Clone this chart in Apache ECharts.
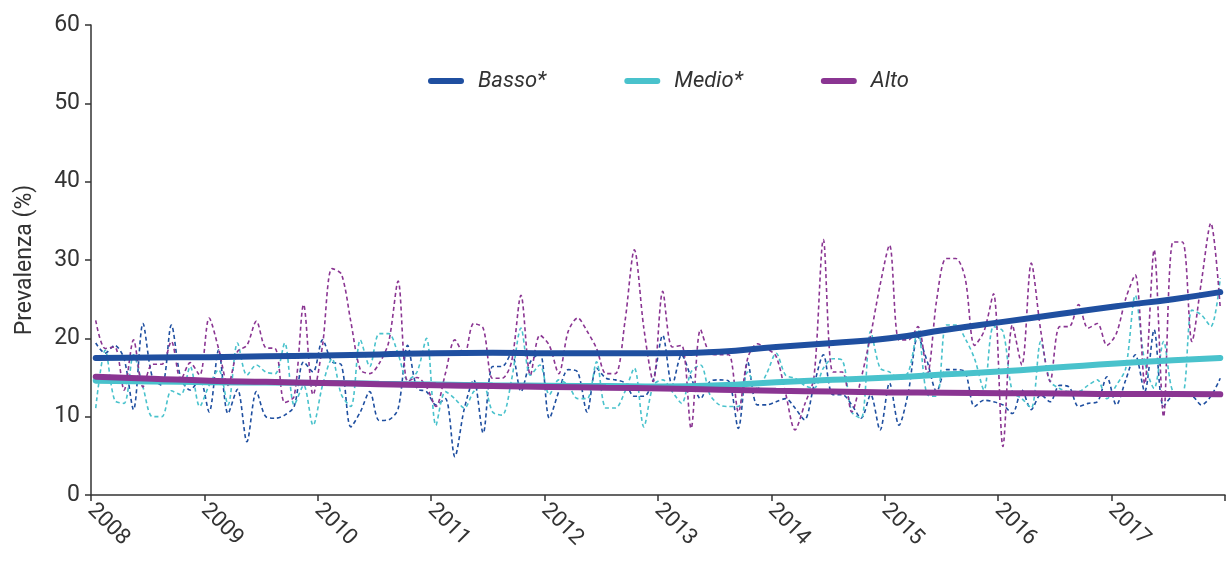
<!DOCTYPE html>
<html>
<head>
<meta charset="utf-8">
<script src="https://cdn.jsdelivr.net/npm/echarts@6/dist/echarts.min.js"></script>
<style>
    html,body{margin:0;padding:0;background:#fff;}
    #chart{width:1232px;height:563px;}
</style>
</head>
<body>
<div id="chart"></div>
<script>
    // anni sull'asse x (12 mesi ciascuno)
    var years=['2008','2009','2010','2011','2012','2013','2014','2015','2016','2017'];

    // prevalenza mensile (%) per livello
    var basso=[19.4,18.1,19.1,17.4,10.9,21.9,15.0,14.0,21.7,14.9,13.4,14.8,
        10.6,18.5,10.4,13.5,6.8,13.2,10.0,9.8,10.2,11.3,17.0,15.7,
        19.8,17.0,16.6,8.7,10.6,13.2,9.5,9.6,11.0,19.1,13.6,13.2,
        11.5,12.3,4.9,11.0,14.7,7.9,16.4,16.4,18.1,13.2,17.0,18.1,
        9.8,13.2,16.0,15.7,10.6,16.2,14.9,14.7,14.3,12.6,12.6,14.7,
        20.4,14.0,17.9,15.0,12.3,14.5,14.7,14.5,8.5,17.0,11.5,11.5,
        11.9,12.3,11.1,9.6,14.0,17.9,12.8,12.8,11.5,9.8,12.8,8.3,
        14.3,8.9,13.2,20.2,17.0,13.2,16.0,16.0,15.7,11.3,12.1,11.9,
        11.5,10.4,13.4,10.9,12.8,11.9,14.0,13.8,11.3,11.7,11.9,15.1,
        11.5,14.7,17.9,13.2,21.1,11.3,12.6,12.6,12.6,11.5,12.6,14.9];
    var medio=[11.1,18.5,12.1,11.7,17.9,13.8,10.0,10.0,13.3,12.8,16.4,11.3,
        14.0,16.0,11.5,19.4,15.3,16.6,15.7,15.5,19.4,11.5,14.0,8.9,
        14.0,17.4,12.8,11.3,19.8,16.4,20.6,20.6,18.0,14.7,15.7,20.0,
        8.9,13.2,12.3,11.1,13.2,14.0,10.6,10.2,14.7,21.3,15.3,16.6,
        12.8,14.7,14.0,12.3,12.3,17.0,11.1,11.1,13.2,16.2,8.7,14.0,
        14.7,13.2,11.7,15.7,16.6,12.8,11.5,11.3,11.3,15.7,13.6,15.5,
        18.1,15.3,14.9,14.0,13.6,16.2,17.4,17.2,10.6,9.8,20.9,16.2,
        15.7,14.9,15.7,21.1,12.8,12.6,21.7,21.7,20.0,17.4,13.4,21.5,
        20.9,13.2,12.3,11.1,19.6,14.5,13.6,13.2,13.2,14.0,14.7,12.3,
        14.0,16.2,25.5,17.0,13.6,19.6,13.2,13.0,23.6,23.0,21.5,27.7];
    var alto=[22.3,18.7,18.9,13.4,19.8,13.8,16.7,16.7,19.6,14.7,16.9,15.3,
        22.6,18.7,14.0,18.3,19.1,22.2,18.8,18.7,11.8,12.6,24.3,12.8,
        19.1,28.9,28.2,22.1,16.0,15.5,16.8,19.5,27.3,14.5,15.0,13.8,
        11.3,15.5,19.8,17.9,21.9,21.3,14.9,14.9,17.0,25.5,15.3,20.4,
        19.1,15.5,20.9,22.6,20.9,18.7,15.5,15.5,22.1,31.3,21.3,14.5,
        26.0,18.9,19.1,8.5,21.1,18.1,17.9,17.9,10.6,17.5,19.3,18.7,
        17.7,13.0,8.3,11.5,15.0,32.6,15.7,15.7,10.6,14.9,20.4,26.8,
        31.9,19.8,19.8,21.5,15.5,25.0,30.2,30.2,27.7,19.1,20.9,25.7,
        6.2,21.7,16.6,29.6,21.0,14.5,21.5,21.5,24.3,21.3,21.9,19.1,
        20.6,25.1,28.1,14.2,31.3,10.0,32.3,32.3,19.6,27.2,34.7,23.8];

    // andamento (trend) letto ogni sei mesi
    var trendMonths=[0,6,12,18,24,30,36,42,48,54,60,66,72,78,84,90,96,102,108,114,119];
    var bassoTrend=[17.5,17.55,17.6,17.7,17.8,17.95,18.1,18.15,18.1,18.1,18.1,18.3,18.9,19.4,20.0,21.1,22.1,23.1,24.1,25.0,25.9];
    var medioTrend=[14.6,14.5,14.4,14.35,14.3,14.2,14.1,14.0,13.95,13.9,13.85,14.0,14.4,14.7,15.0,15.4,15.8,16.3,16.8,17.2,17.5];
    var altoTrend=[15.1,14.85,14.6,14.45,14.3,14.15,14.0,13.9,13.8,13.7,13.6,13.45,13.3,13.2,13.1,13.05,13.0,12.95,12.9,12.9,12.85];

    var yTicks=[0,10,20,30,40,50,60];

    var colors={basso:'#1f4fa0',medio:'#49c2cc',alto:'#8a3592'};
    var font='Roboto, "Noto Sans", sans-serif';

    function monthly(arr){
        return arr.map(function(v,i){return [i+0.5,v];});
    }
    function trend(arr){
        return arr.map(function(v,i){return [trendMonths[i]+0.5,v];});
    }
    function dashed(name,data,color){
        return {
            name:name,type:'line',data:monthly(data),symbol:'none',smooth:0.3,z:2,
            lineStyle:{color:color,width:1.6,type:[4,3]},itemStyle:{color:color},
            silent:true
        };
    }
    function thick(name,data,color){
        return {
            name:name,type:'line',data:trend(data),symbol:'none',smooth:true,z:5,
            lineStyle:{color:color,width:6,cap:'round'},itemStyle:{color:color}
        };
    }

    var chart=echarts.init(document.getElementById('chart'));
    var option={
        backgroundColor:'#fff',
        animation:false,
        textStyle:{fontFamily:font},
        legend:{
            left:423,top:65,itemGap:78,itemWidth:36,itemHeight:6,
            icon:'path://M3,0 L33,0 A3,3 0 0 1 33,6 L3,6 A3,3 0 0 1 3,0 Z',
            data:['Basso*','Medio*','Alto'],
            textStyle:{fontFamily:font,fontSize:22,fontStyle:'italic',color:'#333',padding:[0,0,0,9]}
        },
        grid:{left:91,right:7,top:25,bottom:68,containLabel:false},
        xAxis:{
            type:'value',min:0,max:120,interval:12,
            axisLine:{lineStyle:{color:'#333',width:1.5}},
            axisTick:{show:true,length:6,lineStyle:{color:'#333',width:1.5}},
            splitLine:{show:false},
            axisLabel:{
                rotate:-45,margin:12,fontSize:22,color:'#333',fontFamily:font,
                formatter:function(v){return v<120?years[v/12]:'';}
            }
        },
        yAxis:{
            type:'value',min:yTicks[0],max:yTicks[yTicks.length-1],interval:10,
            name:'Prevalenza (%)',nameLocation:'middle',nameGap:54,
            nameTextStyle:{fontSize:23,color:'#333',fontFamily:font},
            axisLine:{show:true,lineStyle:{color:'#333',width:1.5}},
            axisTick:{show:true,length:6,lineStyle:{color:'#333',width:1.5}},
            splitLine:{show:false},
            axisLabel:{fontSize:23,color:'#333',margin:11,fontFamily:font}
        },
        series:[
            dashed('Basso mensile',basso,colors.basso),
            dashed('Medio mensile',medio,colors.medio),
            dashed('Alto mensile',alto,colors.alto),
            thick('Basso*',bassoTrend,colors.basso),
            thick('Medio*',medioTrend,colors.medio),
            thick('Alto',altoTrend,colors.alto)
        ]
    };
    chart.setOption(option);
    window.addEventListener('resize',chart.resize);
</script>
</body>
</html>
